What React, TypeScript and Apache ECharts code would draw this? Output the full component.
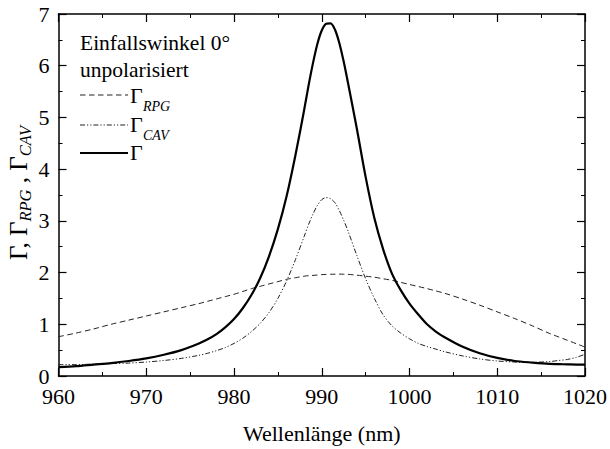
import React, { useEffect, useRef } from "react";
import * as echarts from "echarts";

const wavelengths = [
  960, 962, 964, 966, 968, 970, 972, 974, 976, 977, 978, 979, 980, 981, 982, 983, 984, 985, 986, 987,
  988, 988.5, 989, 989.5, 990, 990.5, 991, 991.5, 992, 992.5, 993,
  994, 995, 996, 997, 998, 999, 1000, 1001, 1002, 1003, 1004, 1006, 1008, 1010, 1012, 1014, 1016,
  1017, 1018, 1019, 1020,
];

const gammaTotal = [
  0.17, 0.19, 0.22, 0.25, 0.29, 0.34, 0.41, 0.5, 0.63, 0.71, 0.81, 0.94, 1.1, 1.31, 1.57, 1.9, 2.32,
  2.84, 3.48, 4.27,
  5.15, 5.62, 6.05, 6.42, 6.68, 6.81, 6.82, 6.7, 6.44, 6.08, 5.66,
  4.78, 3.85, 3.05, 2.45, 1.98, 1.66, 1.4, 1.19, 1.0, 0.86, 0.75, 0.57, 0.44, 0.35, 0.29, 0.26, 0.235,
  0.23, 0.225, 0.22, 0.22,
];

const gammaRPG = [
  0.76, 0.83, 0.91, 1.0, 1.08, 1.16, 1.24, 1.32, 1.4, 1.445, 1.49, 1.535, 1.58, 1.635, 1.69, 1.735,
  1.78, 1.825, 1.87, 1.9,
  1.93, 1.94, 1.945, 1.953, 1.96, 1.965, 1.967, 1.969, 1.97, 1.968, 1.965,
  1.95, 1.93, 1.91, 1.88, 1.85, 1.81, 1.77, 1.73, 1.69, 1.645, 1.6, 1.49, 1.37, 1.24, 1.11, 0.97, 0.82,
  0.755, 0.69, 0.625, 0.56,
];

const gammaCAV = [
  0.22, 0.22, 0.23, 0.24, 0.25, 0.27, 0.3, 0.34, 0.4, 0.44, 0.49, 0.55, 0.63, 0.73, 0.86, 1.02, 1.23,
  1.5, 1.84, 2.25,
  2.7, 2.93, 3.13, 3.3, 3.41, 3.45, 3.43, 3.35, 3.2, 3.01, 2.8,
  2.33, 1.88, 1.5, 1.18, 0.97, 0.83, 0.72, 0.63, 0.57, 0.52, 0.47, 0.39, 0.33, 0.29, 0.27, 0.265, 0.28,
  0.3, 0.32, 0.36, 0.42,
];

const xTitle = "Wellenlänge (nm)";
const legendLine1 = "Einfallswinkel 0°";
const legendLine2 = "unpolarisiert";

const FONT = "Liberation Serif";

const pairs = (ys: number[]) => wavelengths.map((x, i) => [x, ys[i]]);

const T = (size: number, italic = false) => ({
  fontFamily: FONT,
  fontSize: size,
  fontStyle: italic ? "italic" : "normal",
  color: "#000",
  fill: "#000",
});

const txt = (text: string, x: number, y: number, size: number, italic = false) => ({
  type: "text",
  x,
  y,
  style: {
    text: `{t|${text}}`,
    verticalAlign: "middle",
    rich: { t: T(size, italic) },
  },
});

export default function App() {
  const ref = useRef<HTMLDivElement>(null);

  useEffect(() => {
    if (!ref.current) return;
    const chart = echarts.init(ref.current, null, { renderer: "svg" });

    const axisCommon = {
      type: "value" as const,
      axisLine: { show: true, onZero: false, lineStyle: { color: "#000", width: 1.5 } },
      axisTick: { show: true, inside: true, length: 8, lineStyle: { color: "#000", width: 1.2 } },
      minorTick: { show: true, splitNumber: 2, length: 4, lineStyle: { color: "#000", width: 1 } },
      splitLine: { show: false },
      minorSplitLine: { show: false },
    };

    const labelStyle = {
      formatter: (v: number) => `{t|${v}}`,
      rich: { t: T(22) },
    };

    chart.setOption({
      animation: false,
      backgroundColor: "#fff",
      grid: { left: 58.5, right: 25, top: 14, bottom: 71, containLabel: false },
      xAxis: [
        {
          ...axisCommon,
          position: "bottom",
          min: 960,
          max: 1020,
          interval: 10,
          axisLabel: { ...labelStyle, margin: 9 },
          name: `{t|${xTitle}}`,
          nameLocation: "middle",
          nameGap: 46,
          nameTextStyle: { rich: { t: T(22) } },
        },
        {
          ...axisCommon,
          position: "top",
          min: 960,
          max: 1020,
          interval: 10,
          axisLabel: { show: false },
        },
      ],
      yAxis: [
        {
          ...axisCommon,
          position: "left",
          min: 0,
          max: 7,
          interval: 1,
          axisLabel: { ...labelStyle, margin: 9 },
        },
        {
          ...axisCommon,
          position: "right",
          min: 0,
          max: 7,
          interval: 1,
          axisLabel: { show: false },
        },
      ],
      series: [
        {
          name: "RPG",
          type: "line",
          data: pairs(gammaRPG),
          showSymbol: false,
          smooth: 0.3,
          lineStyle: { color: "#222", width: 1, type: [5.5, 3.5] },
        },
        {
          name: "CAV",
          type: "line",
          data: pairs(gammaCAV),
          showSymbol: false,
          smooth: 0.3,
          lineStyle: { color: "#222", width: 1, type: [5, 2, 1.2, 2, 1.2, 2] },
        },
        {
          name: "Gamma",
          type: "line",
          data: pairs(gammaTotal),
          showSymbol: false,
          smooth: 0.3,
          lineStyle: { color: "#000", width: 2.2 },
        },
      ],
      graphic: [
        txt(legendLine1, 80, 43, 21.5),
        txt(legendLine2, 80, 70, 21.5),
        {
          type: "line",
          shape: { x1: 80, y1: 95, x2: 128, y2: 95 },
          style: { stroke: "#222", lineWidth: 1, lineDash: [5.5, 3.5] },
        },
        {
          type: "line",
          shape: { x1: 80, y1: 125, x2: 128, y2: 125 },
          style: { stroke: "#222", lineWidth: 1, lineDash: [5, 2, 1.2, 2, 1.2, 2] },
        },
        {
          type: "line",
          shape: { x1: 80, y1: 153, x2: 128, y2: 153 },
          style: { stroke: "#000", lineWidth: 2.2 },
        },
        txt("Γ", 130, 95, 22),
        txt("RPG", 143, 106, 14, true),
        txt("Γ", 130, 124, 22),
        txt("CAV", 143, 135, 14, true),
        txt("Γ", 130, 152, 22),
        {
          type: "group",
          x: 18,
          y: 193,
          rotation: Math.PI / 2,
          children: [
            {
              type: "text",
              x: 0,
              y: 0,
              style: {
                text: "{g|Γ, Γ}{s|RPG}{g| , Γ}{s|CAV}",
                align: "center",
                verticalAlign: "middle",
                rich: {
                  g: T(25),
                  s: { ...T(16.5, true), padding: [15, 0, 0, 0] },
                },
              },
            },
          ],
        },
      ],
    });

    return () => chart.dispose();
  }, []);

  return (
    <div
      ref={ref}
      style={{ position: "fixed", left: 0, top: 0, width: 610, height: 449 }}
    />
  );
}
